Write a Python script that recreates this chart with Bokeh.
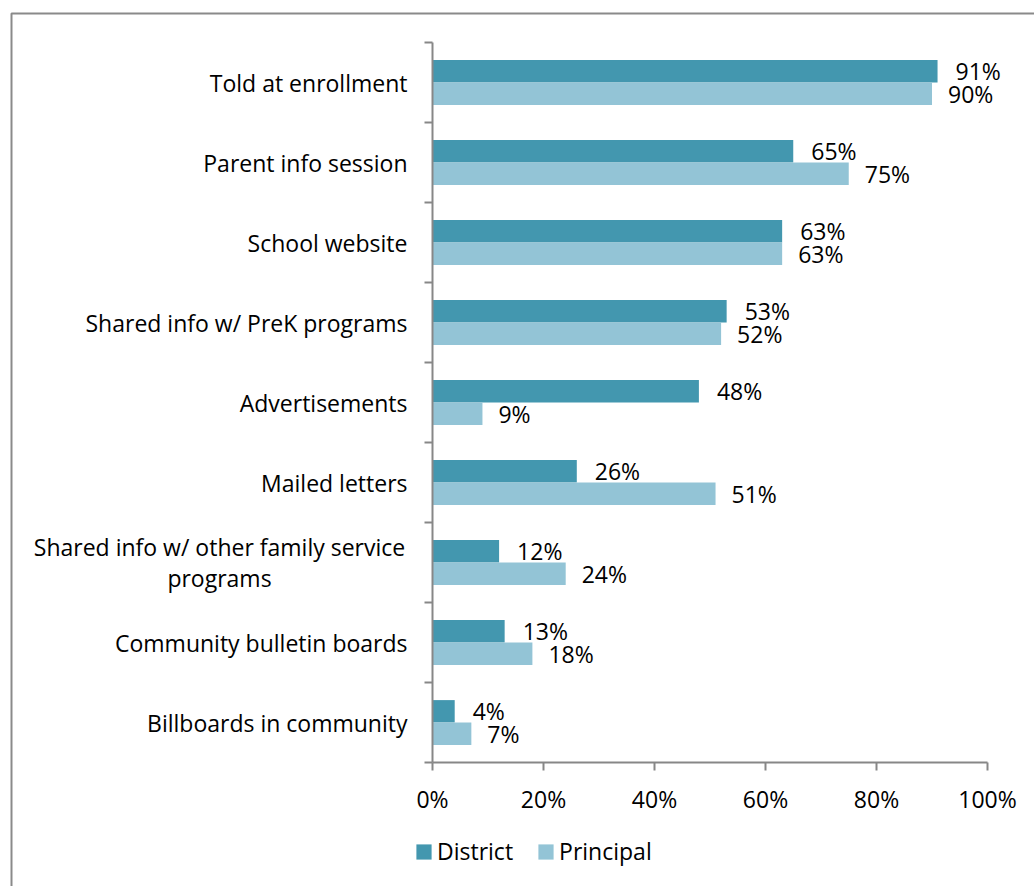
from bokeh.plotting import figure
from bokeh.models import (Range1d, FixedTicker, ColumnDataSource, LabelSet, Label, Legend,
                          LegendItem, BoxAnnotation)
from bokeh.embed import file_html
from bokeh.resources import INLINE
from bokeh.core.properties import value

categories = [
    "Told at enrollment",
    "Parent info session",
    "School website",
    "Shared info w/ PreK programs",
    "Advertisements",
    "Mailed letters",
    "Shared info w/ other family service\nprograms",
    "Community bulletin boards",
    "Billboards in community",
]
district = [91, 65, 63, 53, 48, 26, 12, 13, 4]
principal = [90, 75, 63, 52, 9, 51, 24, 18, 7]
x_ticks = [0, 20, 40, 60, 80, 100]
x_tick_labels = ["0%", "20%", "40%", "60%", "80%", "100%"]
series_names = ["District", "Principal"]
colors = ["#4397AF", "#93C4D6"]

FONT = "Open Sans"
FS = "23px"
GRAY = "#878787"

W, H = 1034, 886
n = len(categories)

# pixel layout of the plotting area (whole canvas is the frame)
X0_PX, X100_PX = 432, 987      # 0% and 100%
Y_TOP_PX, Y_BOT_PX = 42, 762   # top of first band, bottom of last band
sx = (X100_PX - X0_PX) / 100.0
sy = (Y_BOT_PX - Y_TOP_PX) / n


def px_x(px):
    return (px - X0_PX) / sx


def px_y(py):
    return (py - Y_TOP_PX) / sy


centers = [i + 0.5 for i in range(n)]
half = 0.14

src = ColumnDataSource(dict(
    center=centers,
    d=district,
    pr=principal,
    yd=[c - half for c in centers],
    yp=[c + half for c in centers],
    dl=[f"{v}%" for v in district],
    pl=[f"{v}%" for v in principal],
))

p = figure(width=W, height=H, output_backend="svg", toolbar_location=None,
           x_range=Range1d(px_x(0), px_x(W)), y_range=Range1d(px_y(H), px_y(0)),
           min_border=0)
p.outline_line_color = None
p.xgrid.visible = False
p.ygrid.visible = False

# outer chart border (only left/top edges fall inside the window)
p.add_layout(BoxAnnotation(left=px_x(11), top=px_y(13), right=px_x(W + 50), bottom=px_y(H + 50),
                           fill_alpha=0, line_color="#8a8a8a", line_alpha=1.0, line_width=2))

r1 = p.hbar(y="yd", left=0, right="d", height=2 * half, source=src, fill_color=colors[0], line_color=None)
r2 = p.hbar(y="yp", left=0, right="pr", height=2 * half, source=src, fill_color=colors[1], line_color=None)

p.add_layout(LabelSet(x="d", y="yd", text="dl", source=src, x_offset=18, text_baseline="middle",
                      text_font=value(FONT), text_font_size=FS, text_color="#000000"))
p.add_layout(LabelSet(x="pr", y="yp", text="pl", source=src, x_offset=16, text_baseline="middle",
                      text_font=value(FONT), text_font_size=FS, text_color="#000000"))

# y axis at x=0: boundary ticks as minor ticks, category names on hidden major ticks
ya = p.yaxis[0]
ya.fixed_location = 0
ya.bounds = (0, n)
ya.ticker = FixedTicker(ticks=centers, minor_ticks=list(range(n + 1)))
ya.major_label_overrides = {c: ("" if "\n" in cat else cat) for c, cat in zip(centers, categories)}
ya.major_tick_line_color = None
ya.major_tick_out = 0
ya.major_tick_in = 0
ya.minor_tick_out = 8
ya.minor_tick_in = 0
ya.minor_tick_line_color = GRAY
ya.minor_tick_line_width = 2
ya.axis_line_color = GRAY
ya.axis_line_width = 2
ya.major_label_standoff = 17
ya.major_label_text_font = FONT
ya.major_label_text_font_size = FS
ya.major_label_text_color = "#000000"

# two-line category name, centred like the reference
for i, cat in enumerate(categories):
    if "\n" in cat:
        p.add_layout(Label(x=px_x(219), y=centers[i], text=cat, text_align="center",
                           text_baseline="middle", text_line_height=0.98,
                           text_font=FONT, text_font_size=FS, text_color="#000000"))

# x axis at y = bottom of last band
xa = p.xaxis[0]
xa.fixed_location = n
xa.bounds = (0, 100)
xa.ticker = FixedTicker(ticks=x_ticks, minor_ticks=[])
xa.major_label_overrides = {t: l for t, l in zip(x_ticks, x_tick_labels)}
xa.major_tick_out = 8
xa.major_tick_in = 0
xa.major_tick_line_color = GRAY
xa.major_tick_line_width = 2
xa.minor_tick_line_color = None
xa.axis_line_color = GRAY
xa.axis_line_width = 2
xa.major_label_standoff = 12
xa.major_label_text_font = FONT
xa.major_label_text_font_size = FS
xa.major_label_text_color = "#000000"

legend = Legend(items=[LegendItem(label=series_names[0], renderers=[r1]),
                       LegendItem(label=series_names[1], renderers=[r2])],
                orientation="horizontal", location=(414, 19), margin=0, padding=0,
                spacing=23, glyph_width=19, glyph_height=19, label_standoff=4,
                border_line_color=None, background_fill_alpha=0,
                label_text_font=FONT, label_text_font_size=FS, label_text_color="#000000")
p.add_layout(legend, "center")

open("out.html", "w").write(file_html(p, INLINE))
